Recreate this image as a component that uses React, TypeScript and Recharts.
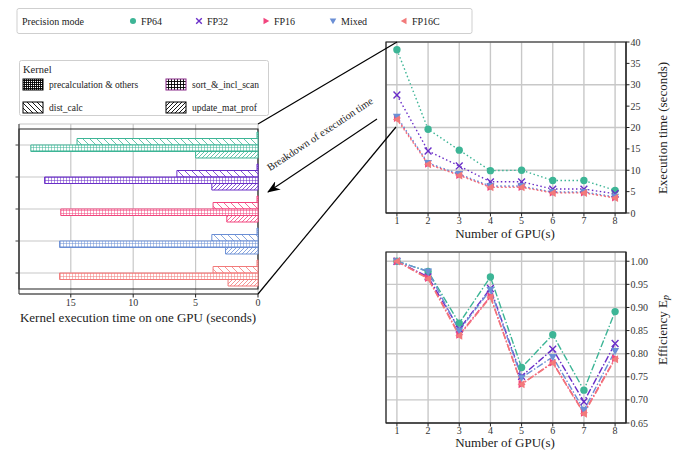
import React from "react";
import {
  BarChart,
  Bar,
  Cell,
  LineChart,
  Line,
  XAxis,
  YAxis,
  CartesianGrid,
  ReferenceArea,
} from "recharts";

// precision modes, shared by all three panels
const modes = ["FP64", "FP32", "FP16", "Mixed", "FP16C"];
const modeKeys = ["fp64", "fp32", "fp16", "mixed", "fp16c"];
const modeColors = ["#3db596", "#6a2ec8", "#f2457e", "#6b8fd5", "#f27a7a"];
const modeMarkers = ["circle", "cross", "triRight", "triDown", "triLeft"];

// per-kernel time on one GPU (seconds)
const kernelNames = ["precalculation & others", "sort_&_incl_scan", "dist_calc", "update_mat_prof"];
const precalcTime = [0.08, 0.08, 0.08, 0.08, 0.08];
const distCalcTime = [14.5, 6.5, 3.6, 3.7, 3.6];
const sortScanTime = [18.2, 17.1, 15.8, 15.9, 15.9];
const updateMatTime = [5.0, 3.7, 2.5, 2.6, 2.4];
const kernelTicks = [0, 5, 10, 15];

// scaling over GPUs
const gpuCounts = [1, 2, 3, 4, 5, 6, 7, 8];
const execFP64 = [38.2, 19.6, 14.7, 9.9, 10.0, 7.6, 7.6, 5.3];
const execFP32 = [27.6, 14.5, 11.0, 7.3, 7.3, 5.6, 5.6, 4.5];
const execFP16 = [22.2, 11.5, 8.9, 6.1, 6.1, 4.8, 4.8, 3.6];
const execMixed = [22.5, 11.7, 9.1, 6.3, 6.3, 4.9, 4.9, 3.8];
const execFP16C = [21.9, 11.4, 8.8, 6.0, 6.0, 4.7, 4.7, 3.5];
const execTicks = [0, 5, 10, 15, 20, 25, 30, 35, 40];

const effFP64 = [1.0, 0.978, 0.866, 0.966, 0.77, 0.841, 0.721, 0.891];
const effFP32 = [1.0, 0.966, 0.853, 0.941, 0.751, 0.81, 0.696, 0.822];
const effFP16 = [1.0, 0.964, 0.841, 0.924, 0.734, 0.781, 0.672, 0.79];
const effMixed = [1.0, 0.978, 0.85, 0.938, 0.748, 0.793, 0.678, 0.806];
const effFP16C = [1.0, 0.962, 0.839, 0.922, 0.734, 0.78, 0.67, 0.788];
const effTicks = [0.65, 0.7, 0.75, 0.8, 0.85, 0.9, 0.95, 1.0];

const FONT = "Liberation Serif, DejaVu Serif, serif";

const barRows = modes.map((m, i) => ({
  mode: m,
  precalc: precalcTime[i],
  dist: distCalcTime[i],
  sort: sortScanTime[i],
  update: updateMatTime[i],
}));

const execSeries = [execFP64, execFP32, execFP16, execMixed, execFP16C];
const effSeries = [effFP64, effFP32, effFP16, effMixed, effFP16C];

const buildRows = (series: number[][]) =>
  gpuCounts.map((g, j) => {
    const row: Record<string, number> = { gpu: g };
    modeKeys.forEach((k, i) => (row[k] = series[i][j]));
    return row;
  });

const execRows = buildRows(execSeries);
const effRows = buildRows(effSeries);

function Marker(props: { cx?: number; cy?: number; shape: string; color: string; s?: number }) {
  const { cx, cy, shape, color } = props;
  const s = props.s ?? 4;
  if (cx == null || cy == null) return <g />;
  if (shape === "circle") return <circle cx={cx} cy={cy} r={s * 0.92} fill={color} />;
  if (shape === "cross") {
    const d = s * 0.85;
    return (
      <path
        d={`M${cx - d},${cy - d}L${cx + d},${cy + d}M${cx - d},${cy + d}L${cx + d},${cy - d}`}
        stroke={color}
        strokeWidth={1.4}
        fill="none"
      />
    );
  }
  let pts = "";
  if (shape === "triRight") pts = `${cx + s},${cy} ${cx - s * 0.75},${cy - s} ${cx - s * 0.75},${cy + s}`;
  if (shape === "triDown") pts = `${cx},${cy + s} ${cx - s},${cy - s * 0.75} ${cx + s},${cy - s * 0.75}`;
  if (shape === "triLeft") pts = `${cx - s},${cy} ${cx + s * 0.75},${cy - s} ${cx + s * 0.75},${cy + s}`;
  return <polygon points={pts} fill={color} />;
}

const tickStyle = { fontSize: 10, fill: "#333", fontFamily: FONT, style: { fontFamily: FONT } };

function HatchDefs(props: { colors: string[]; prefix: string }) {
  return (
    <defs>
      {props.colors.map((c, i) => (
        <React.Fragment key={i}>
          <pattern id={`${props.prefix}pre-${i}`} width="2" height="2" patternUnits="userSpaceOnUse">
            <rect width="2" height="2" fill="#fff" />
            <path d="M0,0.5H2M0.5,0V2" stroke={c} strokeWidth="0.8" />
          </pattern>
          <pattern id={`${props.prefix}sort-${i}`} width="3" height="3" patternUnits="userSpaceOnUse">
            <rect width="3" height="3" fill="#fff" />
            <path d="M0,0.5H3M0.5,0V3" stroke={c} strokeWidth="0.7" strokeOpacity="0.75" />
          </pattern>
          <pattern id={`${props.prefix}dist-${i}`} width="7" height="7" patternUnits="userSpaceOnUse">
            <rect width="7" height="7" fill="#fff" />
            <path d="M0,0L7,7M-1,6L1,8M6,-1L8,1" stroke={c} strokeWidth="0.8" />
          </pattern>
          <pattern id={`${props.prefix}upd-${i}`} width="4" height="4" patternUnits="userSpaceOnUse">
            <rect width="4" height="4" fill="#fff" />
            <path d="M0,4L4,0M-1,1L1,-1M3,5L5,3" stroke={c} strokeWidth="0.8" />
          </pattern>
        </React.Fragment>
      ))}
    </defs>
  );
}

function KernelBars() {
  const kernelBars = [
    { key: "precalc", pat: "pre" },
    { key: "dist", pat: "dist" },
    { key: "sort", pat: "sort" },
    { key: "update", pat: "upd" },
  ];
  return (
    <BarChart
      width={270}
      height={330}
      data={barRows}
      layout="vertical"
      barGap={0}
      barSize={6.5}
      margin={{ top: 124, right: 12, left: 9, bottom: 6 }}
    >
      <HatchDefs colors={modeColors} prefix="b" />
      <CartesianGrid stroke="#c8c8c8" strokeWidth={1.2} />
      <XAxis
        type="number"
        reversed
        domain={[0, 19.15]}
        ticks={kernelTicks}
        height={30}
        tick={tickStyle}
        tickSize={3.5}
        tickMargin={1}
        stroke="#222"
      />
      <YAxis
        type="category"
        dataKey="mode"
        width={10}
        padding={{ top: 5, bottom: 5 }}
        tick={() => <g />}
        tickSize={3.5}
        stroke="#444"
      />
      {kernelBars.map((kb) => (
        <Bar key={kb.key} dataKey={kb.key} isAnimationActive={false} strokeWidth={1}>
          {barRows.map((_, i) => (
            <Cell key={i} fill={`url(#b${kb.pat}-${i})`} stroke={modeColors[i]} />
          ))}
        </Bar>
      ))}
      <ReferenceArea x1={0} x2={19.15} fill="none" stroke="#222" strokeWidth={1.2} ifOverflow="visible" />
    </BarChart>
  );
}

function ScalingChart(props: {
  rows: Record<string, number>[];
  domain: [number, number];
  ticks: number[];
  fmt: (v: number) => string;
  dash: string;
  width: number;
  height: number;
  xHeight: number;
  bottom: number;
}) {
  return (
    <LineChart
      width={props.width}
      height={props.height}
      data={props.rows}
      margin={{ top: 12, right: 25, left: 26, bottom: props.bottom }}
    >
      <CartesianGrid stroke="#c8c8c8" strokeWidth={1.4} />
      <XAxis
        type="number"
        dataKey="gpu"
        domain={[0.65, 8.35]}
        ticks={gpuCounts}
        height={props.xHeight}
        tick={tickStyle}
        tickSize={3.5}
        tickMargin={0}
        stroke="#222"
      />
      <YAxis
        orientation="right"
        type="number"
        domain={props.domain}
        ticks={props.ticks}
        tickFormatter={props.fmt}
        width={40}
        tick={tickStyle}
        tickSize={3.5}
        tickMargin={1}
        stroke="#222"
      />
      {modeKeys.map((k, i) => (
        <Line
          key={k}
          dataKey={k}
          type="linear"
          stroke={modeColors[i]}
          strokeWidth={1.4}
          strokeDasharray={props.dash}
          isAnimationActive={false}
          dot={(p: any) => (
            <Marker key={`${k}-${p.index}`} cx={p.cx} cy={p.cy} shape={modeMarkers[i]} color={modeColors[i]} />
          )}
        />
      ))}
      <ReferenceArea
        x1={0.65}
        x2={8.35}
        y1={props.domain[0]}
        y2={props.domain[1]}
        fill="none"
        stroke="#222"
        strokeWidth={1.2}
        ifOverflow="visible"
      />
    </LineChart>
  );
}

function Overlay() {
  const legendX = [133, 199, 266, 333, 404];
  const kernelLegend = [
    { x: 23, y: 79, pat: "kpre", label: kernelNames[0], edge: "#000" },
    { x: 166, y: 79, pat: "ksort", label: kernelNames[1], edge: "#8a2a8a" },
    { x: 23, y: 102, pat: "kdist", label: kernelNames[2], edge: "#000" },
    { x: 166, y: 102, pat: "kupd", label: kernelNames[3], edge: "#000" },
  ];
  return (
    <svg
      width={691}
      height={451}
      style={{ position: "absolute", left: 0, top: 0, pointerEvents: "none", fontFamily: FONT }}
    >
      <defs>
        <pattern id="kpre" width="2" height="2" patternUnits="userSpaceOnUse">
          <rect width="2" height="2" fill="#fff" />
          <path d="M0,0.5H2M0.5,0V2" stroke="#000" strokeWidth="0.9" />
        </pattern>
        <pattern id="ksort" width="3" height="3" patternUnits="userSpaceOnUse">
          <rect width="3" height="3" fill="#fff" />
          <path d="M0,0.5H3M0.5,0V3" stroke="#000" strokeWidth="0.9" />
        </pattern>
        <pattern id="kdist" width="5" height="5" patternUnits="userSpaceOnUse">
          <rect width="5" height="5" fill="#fff" />
          <path d="M0,0L5,5M-1,4L1,6M4,-1L6,1" stroke="#000" strokeWidth="0.9" />
        </pattern>
        <pattern id="kupd" width="4" height="4" patternUnits="userSpaceOnUse">
          <rect width="4" height="4" fill="#fff" />
          <path d="M0,4L4,0M-1,1L1,-1M3,5L5,3" stroke="#000" strokeWidth="0.9" />
        </pattern>
        <marker id="arrowHead" markerWidth="14" markerHeight="10" refX="12" refY="5" orient="auto" markerUnits="userSpaceOnUse">
          <path d="M0,0 L13,5 L0,10 L4,5 Z" fill="#000" />
        </marker>
      </defs>

      {/* precision-mode legend */}
      <rect x={17} y={8.5} width={455} height={25} rx={2} fill="#fff" stroke="#cfcfcf" />
      <text x={22} y={24.5} fontSize={10} fill="#222">
        Precision mode
      </text>
      {modes.map((m, i) => (
        <g key={m}>
          <Marker cx={legendX[i]} cy={21} shape={modeMarkers[i]} color={modeColors[i]} s={3.3} />
          <text x={legendX[i] + 8} y={24.5} fontSize={10} fill="#222">
            {m}
          </text>
        </g>
      ))}

      {/* kernel legend */}
      <rect x={19.5} y={60.5} width={249} height={55} rx={2} fill="#fff" stroke="#cfcfcf" />
      <text x={23} y={73} fontSize={10.5} fill="#222">
        Kernel
      </text>
      {kernelLegend.map((k) => (
        <g key={k.label}>
          <rect x={k.x} y={k.y} width={20} height={11} fill={`url(#${k.pat})`} stroke={k.edge} strokeWidth={1} />
          <text x={k.x + 26} y={k.y + 9} fontSize={9.5} fill="#222">
            {k.label}
          </text>
        </g>
      ))}

      {/* zoom connectors and arrow */}
      <line x1={258} y1={124} x2={397} y2={42} stroke="#000" strokeWidth={1.2} />
      <line x1={258} y1={294} x2={396} y2={127} stroke="#000" strokeWidth={1.2} />
      <line x1={377} y1={119} x2={268} y2={192} stroke="#000" strokeWidth={1.1} markerEnd="url(#arrowHead)" />
      <text
        x={322}
        y={137}
        fontSize={10.5}
        textAnchor="middle"
        fill="#222"
        transform="rotate(-33.5 322 137)"
      >
        Breakdown of execution time
      </text>

      {/* axis titles */}
      <text x={138} y={322} fontSize={13} textAnchor="middle" fill="#222">
        Kernel execution time on one GPU (seconds)
      </text>
      <text x={505} y={238} fontSize={13} textAnchor="middle" fill="#222">
        Number of GPU(s)
      </text>
      <text x={505} y={447} fontSize={13} textAnchor="middle" fill="#222">
        Number of GPU(s)
      </text>
      <text
        x={662}
        y={128}
        fontSize={13}
        textAnchor="middle"
        dominantBaseline="central"
        fill="#222"
        transform="rotate(-90 662 128)"
      >
        Execution time (seconds)
      </text>
      <text
        x={662}
        y={330}
        fontSize={13}
        textAnchor="middle"
        dominantBaseline="central"
        fill="#222"
        transform="rotate(-90 662 330)"
      >
        Efficiency E
        <tspan fontStyle="italic" fontSize={10} dy={3}>
          p
        </tspan>
      </text>
    </svg>
  );
}

export default function App() {
  return (
    <div
      style={{
        position: "absolute",
        left: 0,
        top: 0,
        width: 691,
        height: 451,
        background: "#fff",
        fontFamily: FONT,
        overflow: "hidden",
      }}
    >
      <div style={{ position: "absolute", left: 0, top: 0 }}>
        <KernelBars />
      </div>
      <div style={{ position: "absolute", left: 360, top: 30 }}>
        <ScalingChart
          rows={execRows}
          domain={[0, 40]}
          ticks={execTicks}
          fmt={(v) => String(v)}
          dash="1.5 2.5"
          width={331}
          height={220}
          xHeight={30}
          bottom={7}
        />
      </div>
      <div style={{ position: "absolute", left: 360, top: 240 }}>
        <ScalingChart
          rows={effRows}
          domain={[0.65, 1.02]}
          ticks={effTicks}
          fmt={(v) => v.toFixed(2)}
          dash="7 2 1.5 2"
          width={331}
          height={211}
          xHeight={25}
          bottom={3}
        />
      </div>
      <Overlay />
    </div>
  );
}
